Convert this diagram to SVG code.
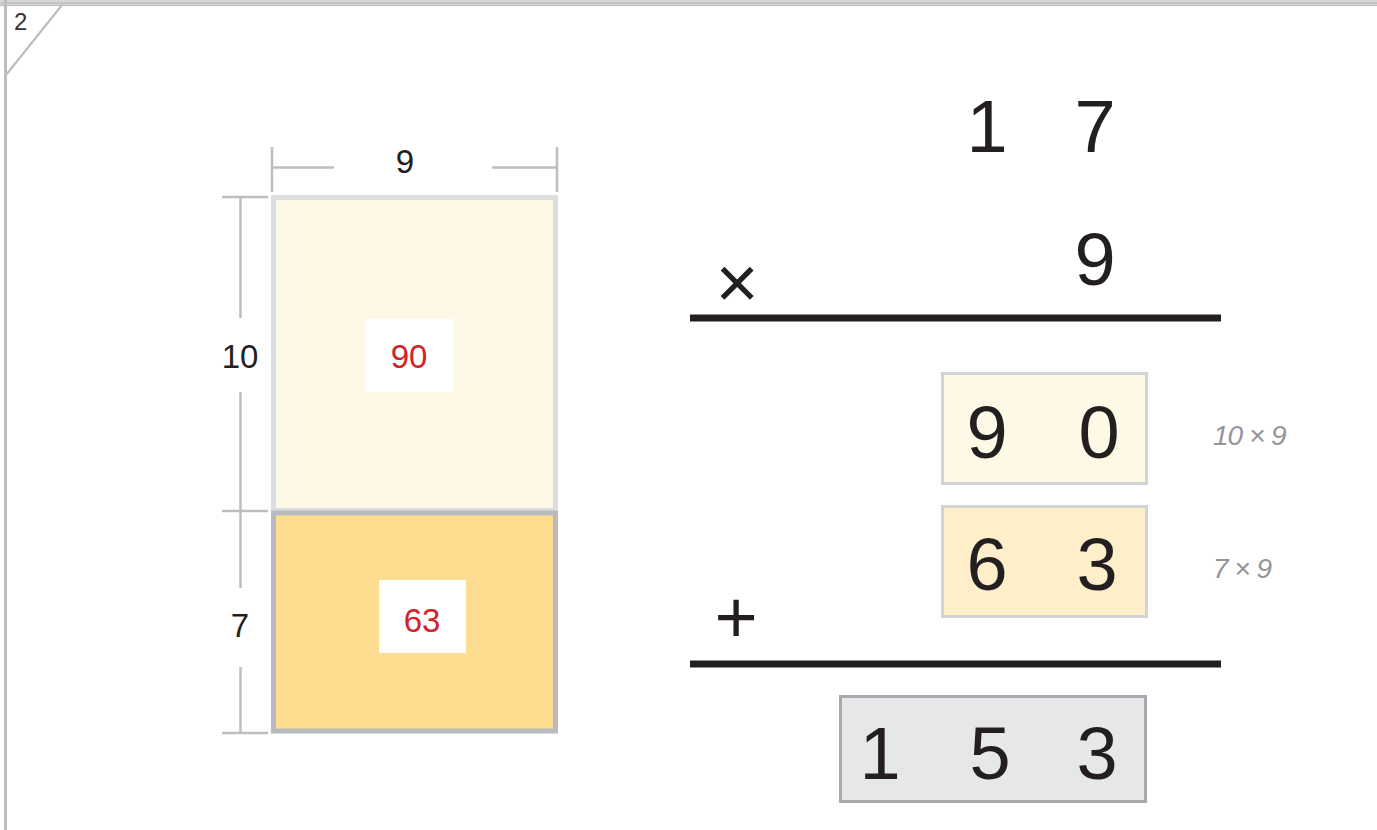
<svg xmlns="http://www.w3.org/2000/svg" width="1377" height="830" viewBox="0 0 1377 830">
<style>
.dig{font-family:"Liberation Sans",Arial,sans-serif;font-size:74px;fill:#231f20;text-anchor:middle}
.lbl{font-family:"Liberation Sans",Arial,sans-serif;font-size:33px;fill:#231f20;text-anchor:middle}
.red{fill:#d2232a}
.note{font-family:"Liberation Sans",Arial,sans-serif;font-size:28px;font-style:italic;fill:#939598;letter-spacing:-1px}
.dim{stroke:#bcbec0;stroke-width:2.5;fill:none}
.rule{stroke:#231f20;stroke-width:7}
</style>
<rect width="1377" height="830" fill="#ffffff"/>
<g id="page-frame">
<rect x="0" y="0" width="1377" height="6" fill="#d6d6d8"/>
<line x1="0" y1="3" x2="1377" y2="3" stroke="#b4b4b7" stroke-width="1.2"/>
<line x1="0" y1="5.5" x2="1377" y2="5.5" stroke="#bdbdc0" stroke-width="1"/>
<rect x="4" y="0" width="3" height="830" fill="#bdbdc0"/>
<line x1="62" y1="5" x2="6" y2="75" stroke="#bdbdc0" stroke-width="2.2"/>
<text x="14" y="30" font-family="'Liberation Sans',Arial,sans-serif" font-size="24" fill="#333">2</text>
</g>
<g id="connectors">
<path class="dim" d="M272 147V192M557 147V192M272 167.5H334M492 167.5H557"/>
<path class="dim" d="M222 197H268M222 511H268M222 733H268M240.5 197V318M240.5 392V511M240.5 511V588M240.5 667V733"/>
</g>
<g id="dim-9"><text class="lbl" x="405" y="173">9</text></g>
<g id="dim-10"><text class="lbl" x="240" y="368">10</text></g>
<g id="dim-7"><text class="lbl" x="240" y="637">7</text></g>
<g id="area-90">
<rect x="273.5" y="197.5" width="282" height="313" fill="#fdf9e6" stroke="#dcdddf" stroke-width="5"/>
<rect x="366" y="319" width="87" height="73" fill="#ffffff"/>
<text class="lbl red" x="409" y="368">90</text>
</g>
<g id="area-63">
<rect x="273.5" y="513" width="282" height="218" fill="#fedd90" stroke="#b9babd" stroke-width="5"/>
<rect x="379" y="580" width="87" height="73" fill="#ffffff"/>
<text class="lbl red" x="422" y="632">63</text>
</g>
<g id="factor-17">
<text class="dig" x="987" y="152">1</text>
<text class="dig" x="1095" y="152">7</text>
</g>
<g id="factor-9">
<text class="dig" x="737" y="308" font-size="64">×</text>
<text class="dig" x="1095" y="285">9</text>
</g>
<line class="rule" x1="690" y1="318" x2="1221" y2="318"/>
<g id="partial-90">
<rect x="942.5" y="373.5" width="204" height="110" fill="#fdf9e6" stroke="#d1d3d4" stroke-width="3"/>
<text class="dig" x="987" y="458">9</text>
<text class="dig" x="1099" y="458">0</text>
<text class="note" x="1213" y="445">10 × 9</text>
</g>
<g id="partial-63">
<rect x="942.5" y="506.5" width="204" height="110" fill="#feeec9" stroke="#d1d3d4" stroke-width="3"/>
<text class="dig" x="987" y="590">6</text>
<text class="dig" x="1097" y="590">3</text>
<text class="note" x="1213" y="578">7 × 9</text>
</g>
<g id="plus"><text class="dig" x="736" y="643" font-size="66">+</text></g>
<line class="rule" x1="690" y1="664" x2="1221" y2="664"/>
<g id="result-153">
<rect x="840.5" y="696.5" width="305" height="105" fill="#e6e7e9" stroke="#a7a9ac" stroke-width="3"/>
<text class="dig" x="880" y="779">1</text>
<text class="dig" x="990" y="779">5</text>
<text class="dig" x="1097" y="779">3</text>
</g>
</svg>
